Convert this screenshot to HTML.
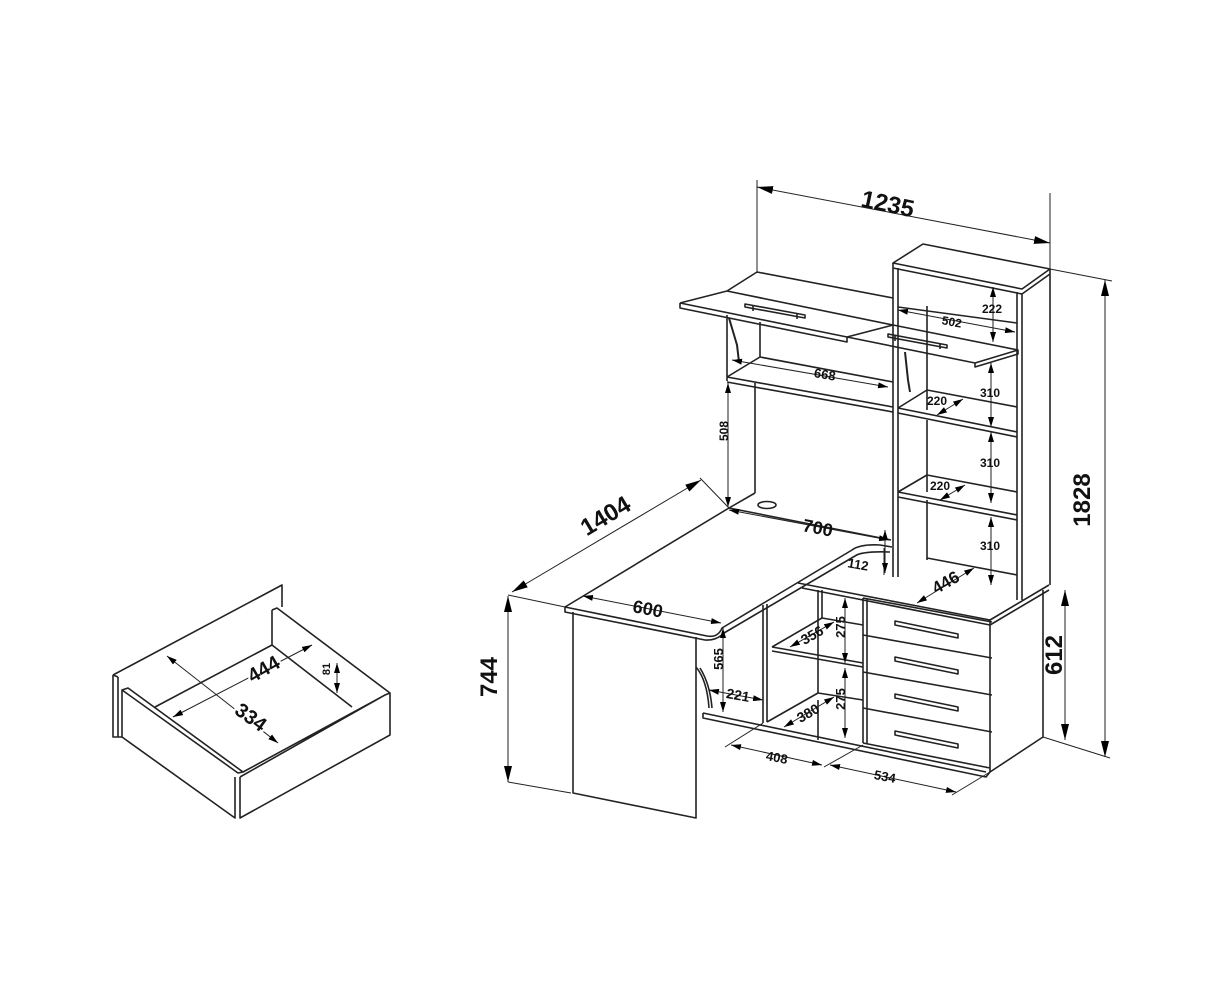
<!DOCTYPE html>
<html><head><meta charset="utf-8"><style>
html,body{margin:0;padding:0;background:#fff}
svg{display:block}
text{font-family:"Liberation Sans",sans-serif;font-weight:bold;fill:#111}
</style></head><body>
<svg width="1223" height="1000" viewBox="0 0 1223 1000" xmlns="http://www.w3.org/2000/svg">
<defs>
<marker id="a" viewBox="0 0 10 6" refX="10" refY="3" markerWidth="10" markerHeight="6" orient="auto-start-reverse" markerUnits="userSpaceOnUse"><path d="M0,0L10,3L0,6z" fill="#000"/></marker>
<marker id="b" viewBox="0 0 16 8" refX="16" refY="4" markerWidth="16" markerHeight="8" orient="auto-start-reverse" markerUnits="userSpaceOnUse"><path d="M0,0L16,4L0,8z" fill="#000"/></marker>
</defs>
<g stroke="#222" stroke-width="1.6" fill="none" stroke-linejoin="round">
<!-- tower top -->
<path d="M893,263 L923,244 L1050,269 L1022,289 Z"/>
<path d="M893,268 L1022,294 L1050,274"/>
<!-- tower verticals -->
<path d="M893,263 L893,577 M898,268 L898,577 M927,306 L927,410 M927,420 L927,492 M927,500 L927,560 M1017,292 L1017,600 M1022,294 L1022,600 M1050,269 L1050,585"/>
<!-- tower shelves -->
<path d="M898,307 L1017,323 M898,408 L1017,432 M898,413 L1017,437 M927,390 L1017,407 M898,408 L927,390"/>
<path d="M898,492 L1017,515 M898,497 L1017,520 M927,475 L1017,492 M898,492 L927,475"/>
<path d="M927,558 L1017,575"/>
<!-- hutch back panel top -->
<path d="M757,272 L893,298"/>
<!-- flap 1 -->
<path d="M680,303 L727,291 L757,272 M680,303 L847,337 M680,303 L680,308 L847,342 L847,337 M727,291 L893,325"/>
<!-- flap 2 -->
<path d="M847,337 L893,325 L1018,350 L975,363 Z M975,363 L975,367 L1018,354 L1018,350"/>
<!-- handles -->
<path d="M745,304 L805,315 L805,318 L745,307 Z M753,306 L753,311 M797,314 L797,319"/>
<path d="M888,334 L947,345 L947,348 L888,337 Z M895,336 L895,341 M940,344 L940,349"/>
<!-- hutch left side & shelf -->
<path d="M727,315 L727,381 M760,322 L760,357 M727,377 L760,357 L893,382 M727,377 L893,407 M727,382 L893,412"/>
<path d="M755,383 L755,493"/>
<!-- gas struts -->
<path d="M729,318 L737,345 L739,362 M905,352 L908,380 L910,392" stroke-width="2"/>
<!-- desk -->
<path d="M565,607 L729,508 L755,493 M729,508 L891,540"/>
<path d="M565,607 L707,636 Q718,638 722,628 L852,550 Q860,544 880,545 L892,547"/>
<path d="M565,607 L565,612 L705,640 Q716,641 724,633 L855,556 Q862,551 890,552"/>
<ellipse cx="767" cy="505" rx="9" ry="3.5"/>
<!-- left leg -->
<path d="M573,612 L573,793 L696,818 L696,637"/>
<path d="M696,667 Q707,680 709,708"/>
<path d="M700,668 Q710,684 712,708"/>
<!-- cabinet top -->
<path d="M798,583 L990,620 L1049,585 M802,588 L990,625 L1049,590"/>
<path d="M990,620 L990,772 L1043,737 L1043,590"/>
<!-- drawers -->
<path d="M863,598 L863,743 M867,599 L867,744"/>
<path d="M863,598 L992,622 M863,635 L992,658 M863,672 L992,695 M863,708 L992,732 M863,743 L990,768"/>
<path d="M895,621 L958,634 L958,638 L895,625 Z M895,657 L958,670 L958,674 L895,661 Z M895,694 L958,707 L958,711 L895,698 Z M895,731 L958,744 L958,748 L895,735 Z"/>
<!-- shelves middle -->
<path d="M763,605 L763,723 M767,604 L767,722 M818,590 L818,693 M822,590 L822,618 M818,700 L818,740"/>
<path d="M772,647 L822,618 L863,625 M772,647 L863,663 M772,651 L863,667"/>
<path d="M703,713 L986,772 M703,713 L703,718 L986,777 L990,772 M767,722 L818,693 L863,700"/>
</g>
<!-- dimension lines -->
<g stroke="#222" stroke-width="1" fill="none">
<path d="M757,180 L757,273 M1050,193 L1050,269 M1050,269 L1112,281 M1043,737 L1110,758 M729,508 L700,478 M508,595 L565,607 M508,782 L571,793"/>
<path d="M725,747 L763,723 M824,767 L863,745 M952,795 L990,772 M884,548 L884,575"/>
<line x1="757" y1="187" x2="1050" y2="243" marker-start="url(#b)" marker-end="url(#b)"/>
<line x1="1105" y1="280" x2="1105" y2="757" marker-start="url(#b)" marker-end="url(#b)"/>
<line x1="1065" y1="590" x2="1065" y2="740" marker-start="url(#b)" marker-end="url(#b)"/>
<line x1="508" y1="596" x2="508" y2="782" marker-start="url(#b)" marker-end="url(#b)"/>
<line x1="512" y1="592" x2="701" y2="480" marker-start="url(#b)" marker-end="url(#b)"/>
<line x1="583" y1="596" x2="721" y2="623" marker-start="url(#a)" marker-end="url(#a)"/>
<line x1="729" y1="510" x2="889" y2="540" marker-start="url(#a)" marker-end="url(#a)"/>
<line x1="885" y1="530" x2="885" y2="573" marker-start="url(#a)" marker-end="url(#a)"/>
<line x1="917" y1="603" x2="974" y2="568" marker-start="url(#a)" marker-end="url(#a)"/>
<line x1="723" y1="628" x2="723" y2="712" marker-start="url(#a)" marker-end="url(#a)"/>
<line x1="709" y1="690" x2="763" y2="700" marker-start="url(#a)" marker-end="url(#a)"/>
<line x1="790" y1="647" x2="834" y2="622" marker-start="url(#a)" marker-end="url(#a)"/>
<line x1="845" y1="598" x2="845" y2="663" marker-start="url(#a)" marker-end="url(#a)"/>
<line x1="845" y1="668" x2="845" y2="738" marker-start="url(#a)" marker-end="url(#a)"/>
<line x1="784" y1="727" x2="834" y2="697" marker-start="url(#a)" marker-end="url(#a)"/>
<line x1="731" y1="745" x2="822" y2="765" marker-start="url(#a)" marker-end="url(#a)"/>
<line x1="830" y1="765" x2="956" y2="792" marker-start="url(#a)" marker-end="url(#a)"/>
<line x1="732" y1="360" x2="888" y2="387" marker-start="url(#a)" marker-end="url(#a)"/>
<line x1="728" y1="383" x2="728" y2="507" marker-start="url(#a)" marker-end="url(#a)"/>
<line x1="898" y1="310" x2="1015" y2="332" marker-start="url(#a)" marker-end="url(#a)"/>
<line x1="993" y1="287" x2="993" y2="342" marker-start="url(#a)" marker-end="url(#a)"/>
<line x1="991" y1="363" x2="991" y2="427" marker-start="url(#a)" marker-end="url(#a)"/>
<line x1="991" y1="432" x2="991" y2="503" marker-start="url(#a)" marker-end="url(#a)"/>
<line x1="991" y1="517" x2="991" y2="585" marker-start="url(#a)" marker-end="url(#a)"/>
<line x1="937" y1="415" x2="963" y2="399" marker-start="url(#a)" marker-end="url(#a)"/>
<line x1="940" y1="500" x2="965" y2="485" marker-start="url(#a)" marker-end="url(#a)"/>
</g>
<!-- labels -->
<text x="888" y="212" font-size="24" text-anchor="middle" transform="rotate(12 888 203)">1235</text>
<text x="1098" y="508" font-size="24" text-anchor="middle" transform="rotate(-90 1090 508)">1828</text>
<text x="1070" y="663" font-size="24" text-anchor="middle" transform="rotate(-90 1062 663)">612</text>
<text x="505" y="685" font-size="24" text-anchor="middle" transform="rotate(-90 497 685)">744</text>
<text x="605" y="524" font-size="24" text-anchor="middle" transform="rotate(-31 605 515)">1404</text>
<text x="648" y="615" font-size="18" text-anchor="middle" transform="rotate(11 648 608)">600</text>
<text x="818" y="534" font-size="18" text-anchor="middle" transform="rotate(11 818 527)">700</text>
<text x="858" y="569" font-size="13" text-anchor="middle" transform="rotate(10 858 565)">112</text>
<text x="946" y="588" font-size="17" text-anchor="middle" transform="rotate(-30 946 583)">446</text>
<text x="727" y="663" font-size="13" text-anchor="middle" transform="rotate(-90 723 663)">565</text>
<text x="738" y="700" font-size="14" text-anchor="middle" transform="rotate(10 738 695)">221</text>
<text x="812" y="640" font-size="14" text-anchor="middle" transform="rotate(-30 812 635)">356</text>
<text x="849" y="631" font-size="13" text-anchor="middle" transform="rotate(-90 845 631)">275</text>
<text x="849" y="703" font-size="13" text-anchor="middle" transform="rotate(-90 845 703)">275</text>
<text x="808" y="718" font-size="14" text-anchor="middle" transform="rotate(-30 808 713)">380</text>
<text x="777" y="762" font-size="13" text-anchor="middle" transform="rotate(11 777 757)">408</text>
<text x="885" y="781" font-size="13" text-anchor="middle" transform="rotate(11 885 776)">534</text>
<text x="825" y="379" font-size="13" text-anchor="middle" transform="rotate(10 825 374)">668</text>
<text x="732" y="435" font-size="12" text-anchor="middle" transform="rotate(-90 728 435)">508</text>
<text x="952" y="326" font-size="12" text-anchor="middle" transform="rotate(10 952 321)">502</text>
<text x="992" y="313" font-size="12" text-anchor="middle">222</text>
<text x="990" y="397" font-size="12" text-anchor="middle">310</text>
<text x="990" y="467" font-size="12" text-anchor="middle">310</text>
<text x="990" y="550" font-size="12" text-anchor="middle">310</text>
<text x="937" y="405" font-size="12" text-anchor="middle">220</text>
<text x="940" y="490" font-size="12" text-anchor="middle">220</text>
<!-- drawer -->
<g stroke="#222" stroke-width="1.6" fill="none" stroke-linejoin="round">
<path d="M113,675 L282,585 L282,607 M113,675 L113,737 L122,737 M118,677 L118,737"/>
<path d="M113,675 L118,677"/>
<path d="M122,690 L128,688 L243,772 L238,773 L122,690 Z M122,690 L122,737 L235,818 L235,777 M240,777 L240,818 L390,735 L390,693 L385,695 L240,777 M243,772 L385,695"/>
<path d="M272,610 L277,608 L390,693 M272,610 L272,645 M155,707 L272,645 L352,707"/>
</g>
<g stroke="#222" stroke-width="1" fill="none">
<line x1="173" y1="717" x2="312" y2="645" marker-start="url(#a)" marker-end="url(#a)"/>
<line x1="167" y1="656" x2="278" y2="743" marker-start="url(#a)" marker-end="url(#a)"/>
<line x1="337" y1="663" x2="337" y2="693" marker-start="url(#a)" marker-end="url(#a)"/>
</g>
<text x="263" y="676" font-size="20" text-anchor="middle" transform="rotate(-30 263 668)" stroke="#fff" stroke-width="4" paint-order="stroke">444</text>
<text x="251" y="724" font-size="20" text-anchor="middle" transform="rotate(36 251 717)" stroke="#fff" stroke-width="4" paint-order="stroke">334</text>
<text x="330" y="677" font-size="11" text-anchor="middle" transform="rotate(-90 326 673)">81</text>
</svg>
</body></html>
